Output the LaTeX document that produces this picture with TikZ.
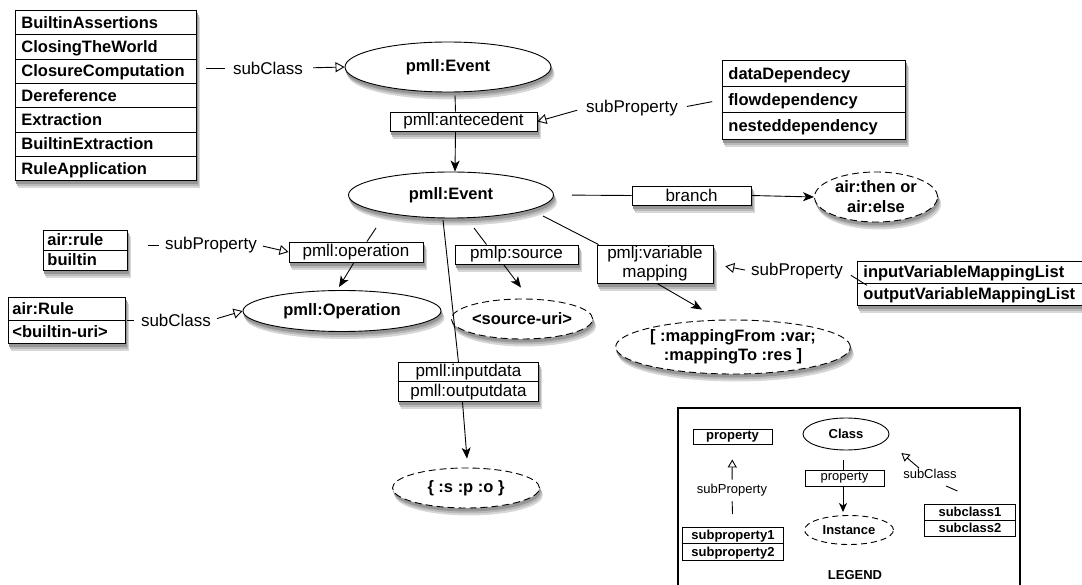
\documentclass[tikz,border=0pt]{standalone}
\usepackage{fontspec}
\setmainfont{Liberation Sans}
\usetikzlibrary{shapes.geometric,shapes.multipart,arrows.meta}
\newcommand\myfb{\fontsize{16.5}{19}\selectfont\bfseries}
\newcommand\myfr{\fontsize{17}{19}\selectfont}
\newcommand\mylb{\fontsize{13}{15}\selectfont\bfseries}
\newcommand\mylr{\fontsize{13}{15}\selectfont}
\newcommand\myrow[2]{\rule[-#2]{0pt}{#1}}
\definecolor{shA}{RGB}{215,215,215}
\definecolor{shB}{RGB}{185,185,185}
\definecolor{shC}{RGB}{150,150,150}
\tikzset{
  shd/.style={
    preaction={draw=shA,fill=shA,line width=0.9pt,dash pattern=on 1pt off 0pt,transform canvas={xshift=3pt,yshift=-7pt}},
    preaction={draw=shB,fill=shB,line width=0.9pt,dash pattern=on 1pt off 0pt,transform canvas={xshift=2pt,yshift=-5pt}},
    preaction={draw=shC,fill=shC,line width=0.9pt,dash pattern=on 1pt off 0pt,transform canvas={xshift=1pt,yshift=-3pt}}},
  base/.style={draw=black,line width=0.9pt,fill=white,inner sep=0pt},
  cls/.style={base,ellipse,font=\myfb,align=center,shd},
  inst/.style={base,ellipse,font=\myfb,align=center,shd,dash pattern=on 7pt off 4pt},
  propbox/.style={base,rectangle,font=\myfr,align=center,shd},
  stackbox/.style={base,rectangle split,rectangle split parts=#1,anchor=north west,
     inner ysep=0pt,inner xsep=6pt,align=left,font=\myfb,shd},
  lbl/.style={font=\myfr,inner sep=1pt},
  rel/.style={line width=0.9pt,-{Stealth[length=11pt,width=9pt,inset=3pt]}},
  sub/.style={line width=0.9pt,-{Triangle[open,length=9pt,width=10pt]}},
  conn/.style={line width=0.9pt},
  lrel/.style={line width=0.9pt,-{Stealth[length=9pt,width=8pt,inset=2.5pt]}},
  lsub/.style={line width=0.9pt,-{Triangle[open,length=8pt,width=9pt]}},
}
\begin{document}
\begin{tikzpicture}[x=1pt,y=-1pt]
\fill[white] (0,0) rectangle (1082,585);
\useasboundingbox (0,0) rectangle (1082,585);

% ---------- stacks ----------
\node[stackbox=7,text width=169pt] (acts) at (15,10)
 {\myrow{23.43pt}{6pt}BuiltinAssertions
  \nodepart{two}\myrow{23.43pt}{6pt}ClosingTheWorld
  \nodepart{three}\myrow{23.43pt}{6pt}ClosureComputation
  \nodepart{four}\myrow{23.43pt}{6pt}Dereference
  \nodepart{five}\myrow{23.43pt}{6pt}Extraction
  \nodepart{six}\myrow{23.43pt}{6pt}BuiltinExtraction
  \nodepart{seven}\myrow{23.43pt}{6pt}RuleApplication};

\node[stackbox=3,text width=171pt] (deps) at (722,60)
 {\myrow{25.3pt}{7pt}dataDependecy
  \nodepart{two}\myrow{25.3pt}{7pt}flowdependency
  \nodepart{three}\myrow{25.3pt}{7pt}nesteddependency};

\node[stackbox=2,text width=76pt,inner xsep=4pt] (rules) at (43,230)
 {\myrow{19pt}{4pt}air:rule
  \nodepart{two}\myrow{19pt}{4pt}builtin};

\node[stackbox=2,text width=109pt,inner xsep=4pt] (arule) at (8,297)
 {\myrow{22pt}{5.5pt}air:Rule
  \nodepart{two}\myrow{22pt}{5.5pt}<builtin-uri>};

\node[stackbox=2,text width=213pt] (varin) at (857,261)
 {\myrow{21pt}{5pt}inputVariableMappingList
  \nodepart{two}\myrow{21pt}{5pt}outputVariableMappingList};

\node[stackbox=2,text width=128pt,align=center,font=\myfr] (iodata) at (398,362)
 {\myrow{18.5pt}{4.5pt}pmll:inputdata
  \nodepart{two}\myrow{18.5pt}{4.5pt}pmll:outputdata};

% ---------- classes / instances ----------
\node[cls,minimum width=206pt,minimum height=50pt] (ev1) at (448,67) {pmll:Event};
\node[cls,minimum width=205pt,minimum height=46pt] (ev2) at (451,195) {pmll:Event};
\node[cls,minimum width=198pt,minimum height=41pt] (oper) at (342,311) {pmll:Operation};
\node[inst,minimum width=123pt,minimum height=50pt,font=\fontsize{16.5}{20}\selectfont\bfseries] (thenelse) at (876,197) {air:then or\\air:else};
\node[inst,minimum width=122pt,minimum height=40pt] (srcuri) at (522,319) {<source-uri>};
\node[inst,minimum width=226pt,minimum height=54pt,font=\fontsize{16.5}{19.5}\selectfont\bfseries] (mapping) at (733,347) {[ :mappingFrom :var;\\:mappingTo :res ]};
\node[inst,minimum width=147pt,minimum height=40pt] (spo) at (466,488) {\{ :s :p :o \}};

% ---------- property boxes ----------
\node[propbox,minimum width=147pt,minimum height=19pt] (ante) at (463.5,121.5) {pmll:antecedent};
\node[propbox,minimum width=119pt,minimum height=19pt] (branch) at (691.5,195.5) {branch};
\node[propbox,minimum width=134pt,minimum height=20pt] (opbox) at (356,252) {pmll:operation};
\node[propbox,minimum width=123pt,minimum height=19pt] (srcbox) at (516.5,254.5) {pmlp:source};
\node[propbox,minimum width=116pt,minimum height=38pt] (varmap) at (655,264) {pmlj:variable\\mapping};

% ---------- connector labels ----------
\node[lbl] (sc1) at (268,68) {subClass};
\node[lbl] (sp1) at (632,108) {subProperty};
\node[lbl] (sp2) at (211,245) {subProperty};
\node[lbl] (sc2) at (176,320) {subClass};
\node[lbl] (sp3) at (797,271) {subProperty};

% ---------- connectors ----------
\draw[conn,shorten <=9pt,shorten >=7pt] (acts.east |- sc1.west) -- (sc1.west);
\draw[sub,shorten <=9pt] (sc1.east) -- (ev1.west);

\draw[conn,shorten <=8pt,shorten >=10pt] (sp1.east) -- (deps.west);
\draw[sub,shorten <=8pt] (sp1.west) -- (ante.east);

\draw[conn,shorten <=20pt,shorten >=5pt] (rules.east |- sp2.west) -- (sp2.west);
\draw[sub,shorten <=5pt] (sp2.east) -- (opbox.west);

\draw[conn,shorten <=1pt,shorten >=6pt] (arule.east |- sc2.west) -- (sc2.west);
\draw[sub,shorten <=5pt] (sc2.east) -- (oper.west);

\draw[sub,shorten <=5pt,shorten >=12pt] (sp3.west) -- (varmap.east);
\draw[conn,shorten <=8pt] (sp3.east) -- ([xshift=10pt,yshift=-2pt]varin.west);

\draw[conn] ([xshift=7pt,yshift=-3pt]ev1.south) -- ([xshift=-8pt]ante.north);
\draw[rel] ([xshift=-8pt]ante.south) -- ([xshift=4pt]ev2.north);

\draw[conn,shorten <=18pt] (ev2.east) -- (branch.west);
\draw[rel] (branch.east) -- (thenelse.west);

\draw[conn] ([xshift=-75pt,yshift=-33pt]ev2.center) -- ([xshift=11pt]opbox.north);
\draw[rel] ([xshift=-2pt]opbox.south) -- ([xshift=-3pt,yshift=3pt]oper.north);

\draw[conn] ([xshift=23pt,yshift=-33pt]ev2.center) -- ([xshift=-30pt]srcbox.north);
\draw[rel] ([xshift=-13pt]srcbox.south) -- ([xshift=-1pt,yshift=11pt]srcuri.north);

\draw[conn] ([xshift=92pt,yshift=-21pt]ev2.center) -- ([xshift=2pt]varmap.north west);
\draw[rel] ([xshift=2pt]varmap.south) -- ([xshift=-31pt,yshift=10pt]mapping.north);

\draw[conn] ([xshift=-8pt,yshift=-25pt]ev2.center) -- ([xshift=-10pt]iodata.north);
\draw[rel] ([xshift=-6pt]iodata.south) -- ([xshift=1pt,yshift=9pt]spo.north);

% ---------- legend ----------
\node[draw=black,line width=2pt,minimum width=342pt,minimum height=195pt,anchor=north west,inner sep=0pt] (legend) at (677,407) {};
\node[base,minimum width=79pt,minimum height=15pt,font=\mylb] (lprop) at (732.5,436.5) {property};
\node[lbl,font=\mylr] (lsp) at (732,490) {subProperty};
\node[base,rectangle split,rectangle split parts=2,anchor=north west,inner ysep=0pt,inner xsep=4pt,
      text width=93pt,align=center,font=\mylb] (lsubp) at (682,527)
 {\myrow{15.5pt}{3.5pt}subproperty1\nodepart{two}\myrow{15.5pt}{3.5pt}subproperty2};
\draw[lsub,shorten <=3pt,shorten >=15pt] (lsp.north) -- (lprop.south);
\draw[conn,shorten <=4pt,shorten >=13pt] (lsp.south) -- (lsubp.north);

\node[base,ellipse,minimum width=86pt,minimum height=32pt,font=\mylb] (lclass) at (846,434) {Class};
\node[base,minimum width=79pt,minimum height=16pt,font=\mylr] (lpropm) at (844.5,478) {property};
\node[base,ellipse,dash pattern=on 6pt off 4pt,minimum width=89pt,minimum height=29pt,font=\mylb] (linst) at (849,530) {Instance};
\draw[conn] ([xshift=-3pt,yshift=-10pt]lclass.south) -- ([xshift=-1.5pt]lpropm.north);
\draw[lrel] ([xshift=-1.5pt]lpropm.south) -- ([xshift=-6pt,yshift=3pt]linst.north);

\node[lbl,font=\mylr] (lsc) at (930,474) {subClass};
\node[base,rectangle split,rectangle split parts=2,anchor=north west,inner ysep=0pt,inner xsep=4pt,
      text width=83pt,align=center,font=\mylb] (lsubc) at (924,504)
 {\myrow{15pt}{3.5pt}subclass1\nodepart{two}\myrow{15pt}{3.5pt}subclass2};
\draw[lsub] ([xshift=-11pt]lsc.north) -- ([xshift=12pt,yshift=-19pt]lclass.east);
\draw[conn] ([xshift=16pt,yshift=-6pt]lsc.south) -- ([xshift=-12.5pt,yshift=13pt]lsubc.north);

\node[font=\mylb] (legendtitle) at (855,575) {LEGEND};
\end{tikzpicture}
\end{document}
